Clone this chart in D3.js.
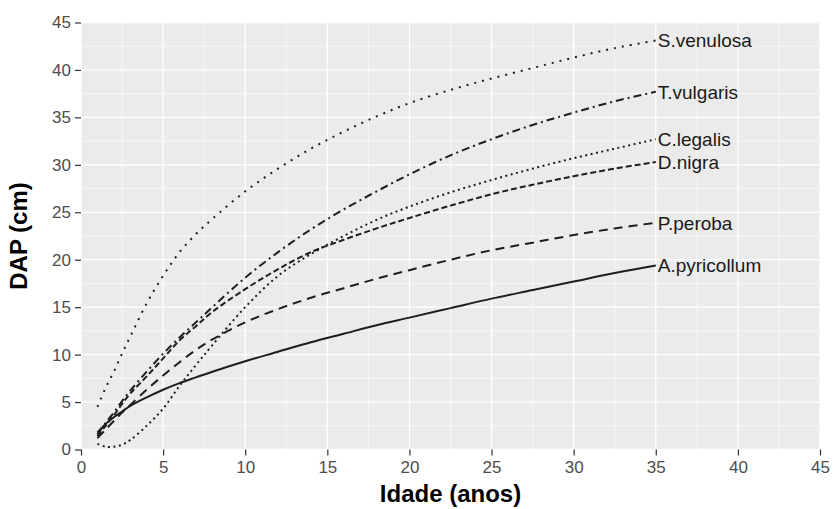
<!DOCTYPE html>
<html>
<head>
<meta charset="utf-8">
<script src="https://cdn.jsdelivr.net/npm/d3@7"></script>
<style>
  html, body { margin: 0; padding: 0; background: #fff; }
  svg { display: block; font-family: "Liberation Sans", Arial, sans-serif; }
</style>
</head>
<body>
<svg id="chart" width="836" height="509"></svg>
<script>
// ---- data ----
const ages = [1, 1.5, 2, 2.5, 3, 4, 5, 6, 7, 8, 10, 12, 14, 16, 18, 20, 22.5, 25, 27.5, 30, 32.5, 35];
const species = ["S.venulosa", "T.vulgaris", "C.legalis", "D.nigra", "P.peroba", "A.pyricollum"];
const sVenulosa   = [4.5, 6.5, 8.2, 10.1, 11.9, 15.4, 18.3, 20.8, 22.7, 24.3, 27.2, 29.6, 31.7, 33.5, 35.1, 36.5, 37.9, 39.1, 40.2, 41.3, 42.3, 43.1];
const tVulgaris   = [1.6, 2.8, 3.9, 5.1, 6.2, 8.2, 10.1, 11.8, 13.4, 15.0, 18.1, 20.8, 23.2, 25.3, 27.2, 29.0, 31.0, 32.7, 34.2, 35.5, 36.7, 37.7];
const cLegalis    = [0.6, 0.3, 0.3, 0.5, 1.0, 2.5, 4.3, 6.7, 8.9, 11.0, 15.0, 18.3, 20.6, 22.5, 24.2, 25.6, 27.1, 28.4, 29.6, 30.7, 31.7, 32.7];
const dNigra      = [1.4, 2.5, 3.6, 4.8, 5.9, 7.7, 9.6, 11.5, 13.0, 14.5, 16.9, 19.0, 20.8, 22.1, 23.3, 24.4, 25.7, 26.9, 27.9, 28.8, 29.6, 30.3];
const pPeroba     = [1.2, 2.1, 3.0, 3.9, 4.7, 6.3, 7.8, 9.2, 10.5, 11.6, 13.4, 14.8, 16.0, 17.0, 18.0, 18.9, 20.0, 21.0, 21.8, 22.6, 23.3, 23.9];
const aPyricollum = [1.8, 2.7, 3.4, 4.0, 4.6, 5.5, 6.3, 7.0, 7.6, 8.2, 9.3, 10.3, 11.3, 12.2, 13.1, 13.9, 14.9, 15.9, 16.8, 17.7, 18.6, 19.4];
const seriesValues = [sVenulosa, tVulgaris, cLegalis, dNigra, pPeroba, aPyricollum];
const xTicks = [0, 5, 10, 15, 20, 25, 30, 35, 40, 45];
const yTicks = [0, 5, 10, 15, 20, 25, 30, 35, 40, 45];
const xTitle = "Idade (anos)";
const yTitle = "DAP (cm)";

// ---- styles ----
const dashes = {
  "S.venulosa": "2,6",
  "T.vulgaris": "8,4,2,4",
  "C.legalis": "2,3.5",
  "D.nigra": "6,3",
  "P.peroba": "9,6",
  "A.pyricollum": null
};

const svg = d3.select("#chart");
const panel = { left: 81, right: 820, top: 22.5, bottom: 449.5 };

const x = d3.scaleLinear().domain([0, 45]).range([panel.left, panel.right]);
const y = d3.scaleLinear().domain([0, 45]).range([panel.bottom, panel.top]);

svg.append("rect").attr("width", 836).attr("height", 509).attr("fill", "#fff");

// panel background
svg.append("rect")
  .attr("x", panel.left).attr("y", panel.top)
  .attr("width", panel.right - panel.left).attr("height", panel.bottom - panel.top)
  .attr("fill", "#ebebeb");

const g = svg.append("g");
const minor = d3.range(2.5, 45, 5);
// minor grid
g.selectAll("line.minx").data(minor).join("line")
  .attr("x1", d => x(d)).attr("x2", d => x(d))
  .attr("y1", panel.top).attr("y2", panel.bottom)
  .attr("stroke", "#fff").attr("stroke-width", 0.6);
g.selectAll("line.miny").data(minor).join("line")
  .attr("y1", d => y(d)).attr("y2", d => y(d))
  .attr("x1", panel.left).attr("x2", panel.right)
  .attr("stroke", "#fff").attr("stroke-width", 0.6);
// major grid
g.selectAll("line.majx").data(xTicks).join("line")
  .attr("x1", d => x(d)).attr("x2", d => x(d))
  .attr("y1", panel.top).attr("y2", panel.bottom)
  .attr("stroke", "#fff").attr("stroke-width", 1.3);
g.selectAll("line.majy").data(yTicks).join("line")
  .attr("y1", d => y(d)).attr("y2", d => y(d))
  .attr("x1", panel.left).attr("x2", panel.right)
  .attr("stroke", "#fff").attr("stroke-width", 1.3);

// axes
const xAxis = d3.axisBottom(x).tickValues(xTicks).tickSize(6).tickPadding(5);
const yAxis = d3.axisLeft(y).tickValues(yTicks).tickSize(6).tickPadding(4);

const gx = svg.append("g").attr("transform", `translate(0,${panel.bottom})`).call(xAxis);
const gy = svg.append("g").attr("transform", `translate(${panel.left},0)`).call(yAxis);
[gx, gy].forEach(a => {
  a.select(".domain").remove();
  a.selectAll(".tick line").attr("stroke", "#333").attr("stroke-width", 1.2);
  a.selectAll(".tick text").attr("fill", "#4d4d4d").attr("font-size", 17)
    .attr("font-family", "Liberation Sans, Arial, sans-serif");
});

// lines
const line = d3.line()
  .x((d, i) => x(ages[i]))
  .y(d => y(d))
  .curve(d3.curveCatmullRom.alpha(0.5));

const plot = svg.append("g");
species.forEach((name, k) => {
  const p = plot.append("path")
    .datum(seriesValues[k])
    .attr("d", line)
    .attr("fill", "none")
    .attr("stroke", "#1e1e1e")
    .attr("stroke-width", 2);
  if (dashes[name]) p.attr("stroke-dasharray", dashes[name]);
});

// end labels
plot.selectAll("text.lab").data(species).join("text")
  .attr("x", x(ages[ages.length - 1]) + 2)
  .attr("y", (d, k) => y(seriesValues[k][seriesValues[k].length - 1]))
  .attr("dy", "0.36em")
  .attr("font-size", 19)
  .attr("fill", "#1a1a1a")
  .text(d => d);

// titles
svg.append("text")
  .attr("x", (panel.left + panel.right) / 2).attr("y", 502)
  .attr("text-anchor", "middle").attr("font-weight", "bold")
  .attr("font-size", 24).attr("fill", "#000")
  .text(xTitle);
svg.append("text")
  .attr("transform", `translate(27,${(panel.top + panel.bottom) / 2}) rotate(-90)`)
  .attr("text-anchor", "middle").attr("font-weight", "bold")
  .attr("font-size", 24).attr("fill", "#000")
  .text(yTitle);
</script>
</body>
</html>
